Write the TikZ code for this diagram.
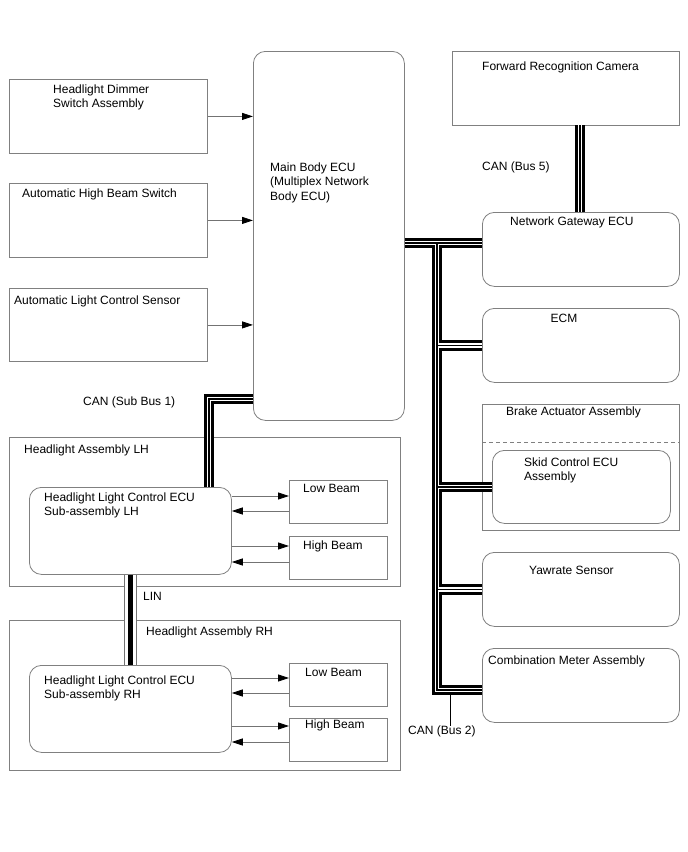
\documentclass[tikz,border=0pt]{standalone}
\usepackage{fontspec}
\setmainfont{Liberation Sans}
\usetikzlibrary{arrows.meta}
\definecolor{boxgray}{gray}{0.5}
\definecolor{arrgray}{gray}{0.45}
\begin{document}
\begin{tikzpicture}[x=1pt,y=-1pt,
  box/.style={draw=boxgray, line width=0.8pt, anchor=north west, inner sep=0pt, fill=white},
  rbox/.style={box, rounded corners=12pt},
  txt/.style={font=\fontsize{12}{14.5}\selectfont, inner sep=0pt, align=left, anchor=north west},
  arr/.style={draw=arrgray, line width=0.8pt, -{Triangle[length=11pt,width=7pt,black]}},
  busA/.style={line width=10.5pt, black},
  busB/.style={line width=4.5pt, white},
  busC/.style={line width=1.3pt, black},
  linA/.style={line width=13pt, arrgray},
  linB/.style={line width=11.4pt, white},
  linC/.style={line width=5pt, black},
  lead/.style={line width=0.8pt, black}
]
\useasboundingbox[fill=white] (0,0) rectangle (688,852);

% ---------- boxes ----------
\node[box, minimum width=198pt, minimum height=74pt] (dim) at (9,79) {};
\node[box, minimum width=198pt, minimum height=74pt] (ahb) at (9,183) {};
\node[box, minimum width=198pt, minimum height=73pt] (alc) at (9,288) {};
\node[rbox, minimum width=151pt, minimum height=369pt] (mb) at (253,51) {};
\node[box, minimum width=227pt, minimum height=74pt] (cam) at (452,51) {};
\node[rbox, minimum width=197pt, minimum height=74pt] (gw) at (482,212) {};
\node[rbox, minimum width=197pt, minimum height=74pt] (ecm) at (482,308) {};
\node[box, minimum width=197pt, minimum height=126pt] (brake) at (482,404) {};
\coordinate (dashL) at (482,442);
\coordinate (dashR) at (679,442);
\draw[boxgray, line width=0.8pt, dash pattern=on 4pt off 3pt] (dashL) -- (dashR);
\node[rbox, minimum width=178pt, minimum height=73pt] (skid) at (492,450) {};
\node[rbox, minimum width=197pt, minimum height=74pt] (yaw) at (482,552) {};
\node[rbox, minimum width=197pt, minimum height=74pt] (meter) at (482,648) {};

\node[box, minimum width=391pt, minimum height=149pt] (hlLH) at (9,437) {};
\node[rbox, minimum width=202pt, minimum height=87pt] (ecuLH) at (29,487) {};
\node[box, minimum width=98pt, minimum height=43pt] (lbL) at (289,480) {};
\node[box, minimum width=98pt, minimum height=43pt] (hbL) at (289,536) {};

\node[box, minimum width=391pt, minimum height=150pt] (hlRH) at (9,620) {};
\node[rbox, minimum width=202pt, minimum height=87pt] (ecuRH) at (29,665) {};
\node[box, minimum width=98pt, minimum height=43pt] (lbR) at (289,663) {};
\node[box, minimum width=98pt, minimum height=43pt] (hbR) at (289,718) {};

% ---------- texts ----------
\node[txt] (tdim) at (53,84.5) {Headlight Dimmer\\Switch Assembly};
\node[txt] (tahb) at (22,188.5) {Automatic High Beam Switch};
\node[txt] (talc) at (14,295.5) {Automatic Light Control Sensor};
\node[txt] (tmb) at (270,162.5) {Main Body ECU\\(Multiplex Network\\Body ECU)};
\node[txt] (tcam) at (482,61.5) {Forward Recognition Camera};
\node[txt] (tbus5) at (482,161.5) {CAN (Bus 5)};
\node[txt] (tgw) at (510,216.5) {Network Gateway ECU};
\node[txt, anchor=north] (tecm) at (564,313.5) {ECM};
\node[txt] (tbrake) at (506,406.5) {Brake Actuator Assembly};
\node[txt] (tskid) at (524,457.5) {Skid Control ECU\\Assembly};
\node[txt] (tyaw) at (529,565.5) {Yawrate Sensor};
\node[txt] (tmeter) at (488,655.5) {Combination Meter Assembly};
\node[txt] (tbus2) at (408,725.5) {CAN (Bus 2)};
\node[txt] (tsub1) at (83,396.5) {CAN (Sub Bus 1)};
\node[txt] (thlLH) at (24,444.5) {Headlight Assembly LH};
\node[txt] (tecuLH) at (44,492.5) {Headlight Light Control ECU\\Sub-assembly LH};
\node[txt] (tlbL) at (303,484.5) {Low Beam};
\node[txt] (thbL) at (303,540.5) {High Beam};
\node[txt] (tlin) at (143,592.5) {LIN};
\node[txt] (thlRH) at (146,626.5) {Headlight Assembly RH};
\node[txt] (tecuRH) at (44,675.5) {Headlight Light Control ECU\\Sub-assembly RH};
\node[txt] (tlbR) at (305,668.5) {Low Beam};
\node[txt] (thbR) at (305,719.5) {High Beam};

% ---------- input arrows ----------
\draw[arr] (dim.east) -- (dim.east -| mb.west);
\draw[arr] (ahb.east) -- (ahb.east -| mb.west);
\draw[arr] (alc.east) -- (alc.east -| mb.west);

% ---------- beam arrows ----------
\coordinate (a1) at (289,496);
\coordinate (a2) at (289,511);
\coordinate (a3) at (289,546);
\coordinate (a4) at (289,562);
\coordinate (a5) at (289,678);
\coordinate (a6) at (289,693);
\coordinate (a7) at (289,726);
\coordinate (a8) at (289,742);
\draw[arr] (ecuLH.east |- a1) -- (a1);
\draw[arr] (a2) -- (ecuLH.east |- a2);
\draw[arr] (ecuLH.east |- a3) -- (a3);
\draw[arr] (a4) -- (ecuLH.east |- a4);
\draw[arr] (ecuRH.east |- a5) -- (a5);
\draw[arr] (a6) -- (ecuRH.east |- a6);
\draw[arr] (ecuRH.east |- a7) -- (a7);
\draw[arr] (a8) -- (ecuRH.east |- a8);

% ---------- buses ----------
\coordinate (j1) at (437,243);
\coordinate (j2) at (437,690);
\coordinate (s1) at (209,399);
\coordinate (b5) at (580,125);
\def\buspaths#1{%
  \draw[#1] (mb.east |- j1) -- (gw.west |- j1);
  \draw[#1] (j1) -- (j2) -- (meter.west |- j2);
  \draw[#1] (j1 |- ecm.west) -- (ecm.west);
  \draw[#1] (j1 |- skid.west) -- (skid.west);
  \draw[#1] (j1 |- yaw.west) -- (yaw.west);
  \draw[#1] (mb.west |- s1) -- (s1) -- (s1 |- ecuLH.north);
  \draw[#1] (b5) -- (b5 |- gw.north);
}
\buspaths{busA}
\buspaths{busB}
\buspaths{busC}
\draw[linA] (ecuLH.south) -- (ecuRH.north);
\draw[linB] (ecuLH.south) -- (ecuRH.north);
\draw[linC] (ecuLH.south) -- (ecuRH.north);

% ---------- leader for CAN (Bus 2) ----------
\coordinate (ld) at (450,695);
\draw[lead] (ld) -- (ld |- tbus2.north);
\end{tikzpicture}
\end{document}
